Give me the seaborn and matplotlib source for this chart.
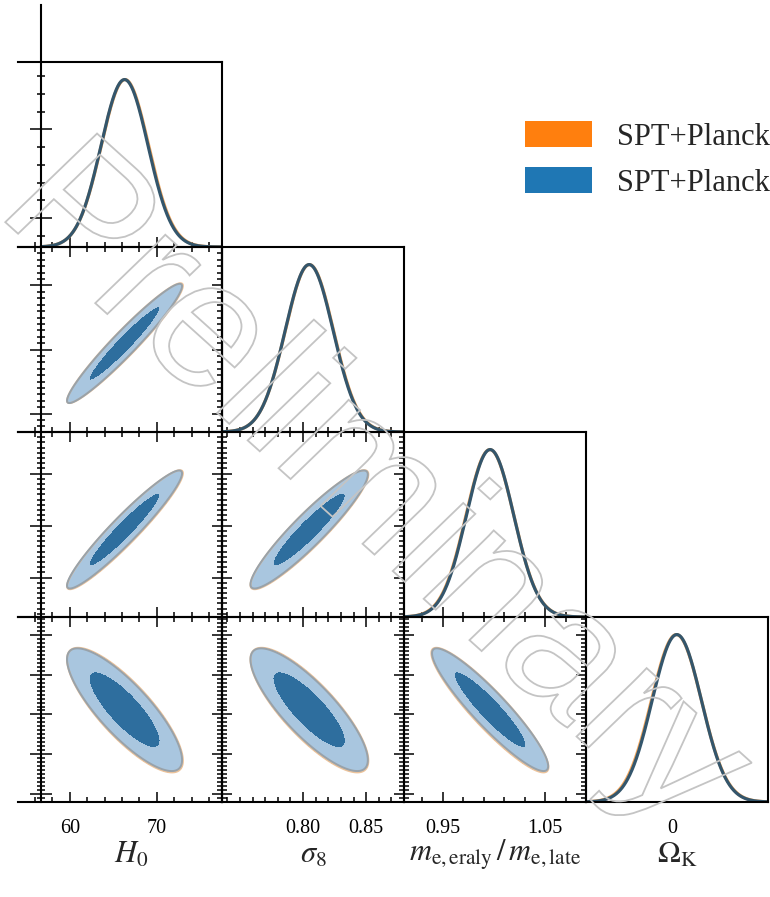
import numpy as np
import pandas as pd
import matplotlib
matplotlib.use("Agg")
import matplotlib.pyplot as plt
import seaborn as sns
from matplotlib.ticker import FixedLocator, MultipleLocator, NullLocator, FixedFormatter, NullFormatter
from matplotlib.patches import Patch, PathPatch
from matplotlib.textpath import TextPath
from matplotlib.font_manager import FontProperties
from matplotlib.transforms import Affine2D

sns.set_theme(style="white")
plt.rcParams["font.family"] = ["Liberation Serif", "DejaVu Serif"]
plt.rcParams["mathtext.fontset"] = "stix"

# ---------------------------------------------------------------- data
param_labels = [r"$H_0$", r"$\sigma_8$",
                r"$m_{\rm e,eraly}\,/\,m_{\rm e,late}$", r"$\Omega_{\rm K}$"]
run_keys = ["orange", "blue"]
run_labels = ["SPT+Planck", "SPT+Planck"]

# posterior means and standard deviations (H0, sigma8, me ratio, Omega_K)
orange_mean = [66.35, 0.8050, 0.9960, 0.0011]
orange_std = [2.72, 0.0191, 0.0234, 0.0064]
blue_mean = [66.3, 0.8048, 0.9962, 0.0012]
blue_std = [2.70, 0.0190, 0.0232, 0.0063]

# pairwise correlation coefficients, (row, column) parameter pairs
pairs = [(1, 0), (2, 0), (2, 1), (3, 0), (3, 1), (3, 2)]
orange_corr = [0.958, 0.948, 0.928, -0.812, -0.812, -0.915]
blue_corr = [0.96, 0.95, 0.93, -0.82, -0.82, -0.92]

# plotted parameter ranges
axis_lo = [56.7, 0.7357, 0.912, -0.022]
axis_hi = [77.5, 0.880, 1.090, 0.0245]

# ticks
x_major = [[60, 70], [0.80, 0.85], [0.95, 1.05], [0.0]]
x_minor = [[56, 58, 62, 64, 66, 68, 72, 74, 76],
           [0.74, 0.75, 0.76, 0.77, 0.78, 0.79, 0.81, 0.82, 0.83, 0.84, 0.86, 0.87],
           [0.93, 0.97, 0.99, 1.01, 1.03, 1.07],
           []]
x_ticklabels = [["60", "70"], ["0.80", "0.85"], ["0.95", "1.05"], ["0"]]
y_major = [None, [0.75, 0.80, 0.85], [0.95, 1.00, 1.05], [-0.02, -0.01, 0.0, 0.01, 0.02]]
y_minor_step = [None, 0.005, 0.005, 0.001]
dens_major = [0.172, 0.702]
dens_minor = [0.066, 0.278, 0.384, 0.490, 0.596, 0.808, 0.914, 1.020]

means = {"orange": orange_mean, "blue": blue_mean}
stds = {"orange": orange_std, "blue": blue_std}
corrs = {"orange": dict(zip(pairs, orange_corr)), "blue": dict(zip(pairs, blue_corr))}

line_colors = {"orange": "#f2a55a", "blue": "#34566c"}
fill_colors = {"orange": ["#e8903f", "#f7d2ad"], "blue": ["#2e6e9e", "#a9c6df"]}
edge_colors = {"orange": "#ecc39b", "blue": "#98a2aa"}

# ---------------------------------------------------------------- layout (pixels)
W, H = 770, 897
col_left = [41, 222, 404, 586]
col_right = [222, 404, 586, 768]
row_top = [62, 247, 432, 617]
row_bottom = [247, 432, 617, 802]
DENS_TOP = 1.105

fig = plt.figure(figsize=(W / 100, H / 100), dpi=100)
fig.patch.set_facecolor("white")


def rect(x0, y0, x1, y1):
    return [x0 / W, 1 - y1 / H, (x1 - x0) / W, (y1 - y0) / H]


tick_kw = dict(colors="black", width=1.1)
tick_font = FontProperties(family="Liberation Serif", size=14.5)

for i in range(4):
    for j in range(i + 1):
        x0 = 18 if j == 0 else col_left[j]
        y0 = 5 if (i == 0 and j == 0) else row_top[i]
        ax = fig.add_axes(rect(x0, y0, col_right[j], row_bottom[i]))
        ax.set_facecolor("none")
        lo, hi = axis_lo[j], axis_hi[j]
        xscale = (hi - lo) / (col_right[j] - col_left[j])
        ax.set_xlim(lo - (col_left[j] - x0) * xscale, hi)
        for sp in ax.spines.values():
            sp.set_linewidth(1.5)
            sp.set_color("black")
            sp.set_visible(True)
        if j == 0:
            ax.spines["left"].set_position(("data", lo))

        if i == j:
            # 1D marginal
            xs = np.linspace(lo, hi, 500)
            frames = []
            for k in run_keys:
                p = np.exp(-0.5 * ((xs - means[k][i]) / stds[k][i]) ** 2)
                frames.append(pd.DataFrame({"x": xs, "p": p, "run": k}))
            df = pd.concat(frames, ignore_index=True)
            sns.lineplot(data=df, x="x", y="p", hue="run", hue_order=run_keys,
                         palette=line_colors, linewidth=2.3, estimator=None,
                         sort=False, legend=False, ax=ax)
            yscale = DENS_TOP / (row_bottom[i] - row_top[i])
            ax.set_ylim(0, DENS_TOP + (row_top[i] - y0) * yscale)
            if i == 0:
                ax.spines["top"].set_position(("data", DENS_TOP))
                ax.spines["right"].set_bounds(0, DENS_TOP)
                ax.yaxis.set_major_locator(FixedLocator(dens_major))
                ax.yaxis.set_minor_locator(FixedLocator(dens_minor))
                ax.tick_params(axis="y", which="major", direction="inout", length=15.5, **tick_kw)
                ax.tick_params(axis="y", which="minor", direction="inout", length=6, **tick_kw)
                ax.tick_params(axis="y", which="both", left=True, right=False, labelleft=False)
            else:
                ax.yaxis.set_major_locator(NullLocator())
                ax.yaxis.set_minor_locator(NullLocator())
            ax.tick_params(axis="x", which="both", top=False, bottom=True, direction="in", **tick_kw)
        else:
            # 2D marginal
            ylo, yhi = axis_lo[i], axis_hi[i]
            ax.set_ylim(ylo, yhi)
            gx = np.linspace(lo, hi, 400)
            gy = np.linspace(ylo, yhi, 400)
            X, Y = np.meshgrid(gx, gy)
            for k in run_keys:
                mx, my = means[k][j], means[k][i]
                sx, sy = stds[k][j], stds[k][i]
                r = corrs[k][(i, j)]
                dx, dy = (X - mx) / sx, (Y - my) / sy
                chi2 = (dx ** 2 - 2 * r * dx * dy + dy ** 2) / (1 - r ** 2)
                ax.contourf(X, Y, chi2, levels=[0, 2.279, 5.991], colors=fill_colors[k])
                ax.contour(X, Y, chi2, levels=[5.991], colors=[edge_colors[k]], linewidths=1.4)
            ax.yaxis.set_major_locator(FixedLocator(y_major[i]))
            ax.yaxis.set_minor_locator(MultipleLocator(y_minor_step[i]))
            ax.yaxis.set_major_formatter(NullFormatter())
            if j == 0:
                # outer column: crossing ticks on the left, inward ticks on the right
                ax.tick_params(axis="y", which="major", direction="inout", length=15.5, **tick_kw)
                ax.tick_params(axis="y", which="minor", direction="inout", length=6, **tick_kw)
                ax.tick_params(axis="y", which="both", left=True, right=False, labelleft=False)
                sec = ax.secondary_yaxis("right")
                sec.yaxis.set_major_locator(FixedLocator(y_major[i]))
                sec.yaxis.set_minor_locator(MultipleLocator(y_minor_step[i]))
                sec.yaxis.set_major_formatter(NullFormatter())
                sec.spines["right"].set_linewidth(1.5)
                sec.spines["right"].set_color("black")
                sec.tick_params(which="major", direction="in", length=7.5, **tick_kw)
                sec.tick_params(which="minor", direction="in", length=3.4, **tick_kw)
            else:
                ax.tick_params(axis="y", which="major", direction="in", length=7.5, **tick_kw)
                ax.tick_params(axis="y", which="minor", direction="in", length=3.4, **tick_kw)
                ax.tick_params(axis="y", which="both", left=True, right=True, labelleft=False)
            ax.tick_params(axis="x", which="both", top=True, bottom=True, direction="in", **tick_kw)

        ax.set_xlabel("")
        ax.set_ylabel("")
        ax.xaxis.set_major_locator(FixedLocator(x_major[j]))
        ax.xaxis.set_minor_locator(FixedLocator(x_minor[j]) if x_minor[j] else NullLocator())
        ax.tick_params(axis="x", which="major", length=7.5)
        ax.tick_params(axis="x", which="minor", length=3.4)
        if i == 3:
            ax.xaxis.set_major_formatter(FixedFormatter(x_ticklabels[j]))
            ax.tick_params(axis="x", labelbottom=True, pad=12)
            if j == 3:
                ax.tick_params(axis="x", which="both", length=0)
            for t in ax.get_xticklabels():
                t.set_fontproperties(tick_font)
            ax.set_xlabel(param_labels[j], fontsize=22)
            cx = ((col_left[j] + col_right[j]) / 2 - x0) / (col_right[j] - x0)
            ax.xaxis.set_label_coords(cx, -53 / (row_bottom[i] - row_top[i]))
            ax.xaxis.label.set_va("center")
        else:
            ax.tick_params(axis="x", labelbottom=False)
        ax.grid(False)

# ---------------------------------------------------------------- legend
handles = [Patch(facecolor="#ff7f0e", edgecolor="none"),
           Patch(facecolor="#1f77b4", edgecolor="none")]
fig.legend(handles=handles, labels=run_labels, loc="upper left",
           bbox_to_anchor=(525 / W, 1 - 121 / H), frameon=False,
           prop=FontProperties(family="Liberation Serif", size=22),
           handlelength=2.2, handleheight=0.95, handletextpad=0.8,
           labelspacing=0.5, borderpad=0, borderaxespad=0)

# ---------------------------------------------------------------- watermark
wm_path = TextPath((0, 0), "Preliminary", size=185,
                   prop=FontProperties(family="Liberation Sans"))
wm_tf = Affine2D().skew_deg(4, 0).rotate_deg(-42).translate(-6, H - 212)
wm = PathPatch(wm_path, facecolor="none", edgecolor="#c4c4c4", linewidth=1.3,
               transform=wm_tf, zorder=20)
fig.add_artist(wm)
wm.set_transform(wm_tf)

fig.savefig("out.png", dpi=100)
